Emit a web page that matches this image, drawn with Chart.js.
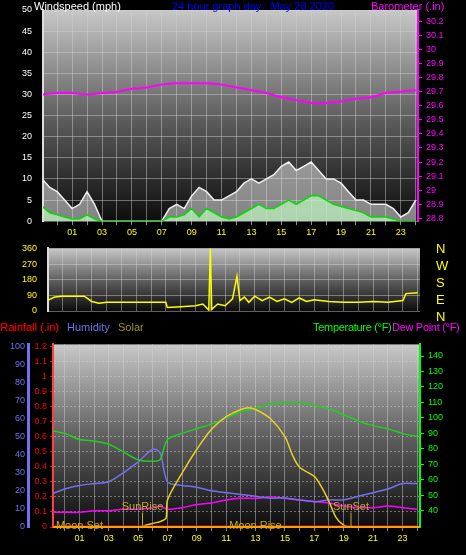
<!DOCTYPE html>
<html><head><meta charset="utf-8">
<script src="https://cdn.jsdelivr.net/npm/chart.js@4/dist/chart.umd.min.js"></script>
<style>
body{margin:0;background:#000;width:466px;height:555px;position:relative;overflow:hidden;font-family:"Liberation Sans",Arial,sans-serif}
canvas{position:absolute;left:0;z-index:1}
.t{position:absolute;font-size:11px;white-space:nowrap;line-height:12px;z-index:2}
</style></head><body>
<div class="t" style="left:34px;top:0;color:#fff">Windspeed (mph)</div>
<div class="t" style="left:172px;top:0;color:#0000ff">24 hour graph day : May 28 2020</div>
<div class="t" style="left:371px;top:0;color:#ff00ff">Barometer (.in)</div>
<canvas id="c1" width="466" height="240" style="top:0"></canvas>
<canvas id="c2" width="466" height="80" style="top:240px"></canvas>
<div class="t" style="left:436px;top:240px;color:#ffff00;line-height:17px;font-size:13px">N<br>W<br>S<br>E<br>N</div>
<div class="t" style="left:0;top:321px;color:#ff0000">Rainfall (.in)</div>
<div class="t" style="left:67px;top:321px;color:#7070f0">Humidity</div>
<div class="t" style="left:118px;top:321px;color:#a09020">Solar</div>
<div class="t" style="left:313px;top:321px;color:#00ff00;letter-spacing:-0.3px">Temperature (°F)</div>
<div class="t" style="left:392px;top:321px;color:#ff00ff;letter-spacing:-0.3px">Dew Point (°F)</div>
<canvas id="c3" width="466" height="220" style="top:335px"></canvas>
<script>
// hours (relative to midnight), 30-min steps for wind
const windHours = [-1,-0.5,0,0.5,1,1.5,2,2.5,3,3.5,4,4.5,5,5.5,6,6.5,7,7.5,8,8.5,9,9.5,10,10.5,11,11.5,12,12.5,13,13.5,14,14.5,15,15.5,16,16.5,17,17.5,18,18.5,19,19.5,20,20.5,21,21.5,22,22.5,23,23.5,24];
const windGust = [10,8,7,5,3,4,7,4,0,0,0,0,0,0,0,0,0,3,4,3,6,8,7,5,5,6,7,9,10,9,10,11,13,14,12,13,14,12,10,10,9,7,5,5,4,4,4,3,1,2,5];
const windAvg = [3.5,2,1.5,1,0.5,0.5,1.5,0.5,0,0,0,0,0,0,0,0,0,1,1,1.5,3,1,3,2,1,0.5,1,2,3,4,3,3,4,5,4,5,6,6,5,4,3.5,3,2.5,2,1,1,1,0.5,0,0,0];
const baroHours = [-1,0,1,2,3,4,5,6,7,8,9,10,11,12,13,14,15,16,17,18,19,20,21,22,23,24];
const baro = [29.68,29.69,29.69,29.68,29.69,29.70,29.72,29.73,29.75,29.76,29.76,29.76,29.75,29.73,29.71,29.69,29.66,29.64,29.62,29.62,29.63,29.65,29.66,29.69,29.70,29.71];

const dirHours = [-1,-0.5,0,1,1.5,2,2.5,3,4,5,6,7,7.1,8,9,9.5,9.9,10,10.1,10.5,11,11.5,11.8,12,12.3,12.6,13,13.5,14,14.5,15,15.5,16,16.5,17,18,19,20,21,22,23,23.2,24];
const windDir = [60,80,85,85,85,55,45,50,50,50,50,50,20,25,30,40,5,360,10,40,30,70,200,60,80,50,85,60,80,55,70,50,75,55,65,55,50,50,55,50,60,100,105];

const thHours = [-1,0,1,2,3,4,5,6,6.5,7,8,9,10,11,12,13,14,15,16,17,18,19,20,21,22,23,24];
const temperature = [92,90,86,85,83,78,73,72,73,86,90,93,96,100,104,106,109,110,110,108,106,102,98,95,93,90,88];
const humidity = [18,21,23,24,25,30,36,43,41,25,23,22,20,19,18,17,16,16,15,14,15,15,17,19,21,24,24];
const dewPoint = [39,39,39,40,40,41,41,42,43,41,42,44,45,47,48,48,49,48,47,46,45,43,42,42,43,42,41];
const solarHours = [-1,5.3,5.5,6,6.5,6.9,7,8,9,10,11,12,12.5,13,14,15,15.5,16,17,17.5,18,18.5,19,19.5,24];
const solar = [0,0,1,2,3,5,15,30,43,54,61,65,66,65,60,50,40,33,28,22,14,5,1,0,0];
const rainHours = [-1,24];
const rainfall = [0,0];
const sunMarks = [{h:5.3,label:'SunRise'},{h:19.5,label:'SunSet'}];
const moonMarks = [{h:-0.6,label:'Moon Set'},{h:11.2,label:'Moon Rise'}];

const xy = (xs, ys) => xs.map((x, i) => ({x: x, y: ys[i]}));
const FONT = {family: '"Liberation Sans", Arial, sans-serif', size: 9};
const GRID = {color: 'rgba(210,210,210,0.45)', tickColor: 'rgba(0,0,0,0)'};

const bgPlugin = {
  id: 'bg',
  beforeDraw(chart) {
    const c = chart.ctx, a = chart.chartArea;
    c.save();
    c.fillStyle = '#000';
    c.fillRect(0, 0, chart.width, chart.height);
    const g = c.createLinearGradient(0, a.top, 0, a.bottom);
    g.addColorStop(0, '#c8c8c8');
    g.addColorStop(0.5, '#606060');
    g.addColorStop(1, '#0c0c0c');
    c.fillStyle = g;
    c.fillRect(a.left, a.top, a.right - a.left, a.bottom - a.top);
    c.restore();
  }
};

function hourAxis(min, max, show) {
  return {
    type: 'linear', min: min, max: max, display: show,
    afterBuildTicks: s => { s.ticks = []; for (let h = 0; h <= 24; h++) s.ticks.push({value: h}); },
    ticks: {color: '#ffff00', font: FONT, autoSkip: false, maxRotation: 0, padding: 2,
      callback: v => (v % 2 === 1 ? String(v).padStart(2, '0') : '')},
    grid: {color: 'rgba(210,210,210,0.45)', tickLength: 4, tickColor: '#888', drawOnChartArea: true},
    border: {display: false}
  };
}
function fixW(w) { return s => { s.width = w; }; }

new Chart(document.getElementById('c1'), {
  type: 'line',
  data: {datasets: [
    {data: xy(baroHours, baro), yAxisID: 'yb', borderColor: '#ff00ff', borderWidth: 2, pointRadius: 0, tension: 0.3},
    {data: xy(windHours, windAvg), yAxisID: 'y', borderColor: '#00dd00', borderWidth: 1.5, pointRadius: 0, fill: 'origin', backgroundColor: 'rgba(190,240,190,0.75)'},
    {data: xy(windHours, windGust), yAxisID: 'y', borderColor: '#f0f0f0', borderWidth: 1.5, pointRadius: 0, fill: 'origin', backgroundColor: 'rgba(230,230,230,0.55)'}
  ]},
  options: {
    animation: false, responsive: false,
    layout: {padding: {top: 10}},
    plugins: {legend: {display: false}, tooltip: {enabled: false}},
    scales: {
      x: hourAxis(-0.95, 24.15, true),
      y: {min: 0, max: 50, afterFit: fixW(43), ticks: {stepSize: 5, color: '#fff', font: FONT, padding: 3},
        grid: GRID, border: {display: true, color: '#ddd', width: 2}},
      yb: {position: 'right', min: 28.78, max: 30.28, afterFit: fixW(48),
        afterBuildTicks: s => { s.ticks = []; for (let v = 28.8; v <= 30.21; v += 0.1) s.ticks.push({value: Math.round(v * 10) / 10}); },
        ticks: {color: '#ff00ff', font: FONT, padding: 4, callback: v => String(v)},
        grid: {drawOnChartArea: false, tickLength: 4, tickColor: '#ff00ff'}, border: {display: true, color: '#ff00ff', width: 2}}
    }
  },
  plugins: [bgPlugin]
});

new Chart(document.getElementById('c2'), {
  type: 'line',
  data: {datasets: [
    {data: xy(dirHours, windDir), borderColor: '#ffff00', borderWidth: 1.5, pointRadius: 0}
  ]},
  options: {
    animation: false, responsive: false,
    layout: {padding: {top: 6, bottom: 9}},
    plugins: {legend: {display: false}, tooltip: {enabled: false}},
    scales: {
      x: Object.assign(hourAxis(-0.95, 24.15, true), {ticks: {display: false}, grid: {color: 'rgba(210,210,210,0.45)', tickLength: 0}}),
      y: {min: 0, max: 360, afterFit: fixW(48), ticks: {stepSize: 90, color: '#ffff00', font: FONT, padding: 3},
        grid: GRID, border: {display: true, color: '#ddd', width: 2}},
      yr: {position: 'right', min: 0, max: 360, afterFit: fixW(46), ticks: {display: false}, grid: {drawOnChartArea: false}, border: {display: false}}
    }
  },
  plugins: [bgPlugin]
});

const markPlugin = {
  id: 'marks',
  afterDatasetsDraw(chart) {
    const c = chart.ctx, x = chart.scales.x, yh = chart.scales.yh;
    c.save();
    c.font = '11px "Liberation Sans", Arial, sans-serif';
    c.textBaseline = 'middle';
    c.fillStyle = '#c0b020';
    c.strokeStyle = '#c0b020';
    c.lineWidth = 1;
    sunMarks.forEach(m => {
      const px = x.getPixelForValue(m.h);
      c.beginPath(); c.moveTo(px, yh.getPixelForValue(0)); c.lineTo(px, yh.getPixelForValue(8)); c.stroke();
      c.textAlign = 'center';
      c.fillText(m.label, px, yh.getPixelForValue(11));
    });
    moonMarks.forEach(m => {
      c.textAlign = 'left';
      c.fillText(m.label, x.getPixelForValue(m.h), yh.getPixelForValue(0) - 1);
    });
    c.fillStyle = '#ffa000';
    c.fillRect(x.left, yh.getPixelForValue(0) - 1, x.right - x.left, 2);
    c.restore();
  }
};

new Chart(document.getElementById('c3'), {
  type: 'line',
  data: {datasets: [
    {data: xy(rainHours, rainfall), yAxisID: 'yr', borderColor: '#ff0000', borderWidth: 3, pointRadius: 0},
    {data: xy(solarHours, solar), yAxisID: 'yh', borderColor: '#e8d020', borderWidth: 1.5, pointRadius: 0, tension: 0.3},
    {data: xy(thHours, temperature), yAxisID: 'yt', borderColor: '#20d020', borderWidth: 1.5, pointRadius: 0, tension: 0.3},
    {data: xy(thHours, humidity), yAxisID: 'yh', borderColor: '#7070f0', borderWidth: 1.5, pointRadius: 0, tension: 0.3},
    {data: xy(thHours, dewPoint), yAxisID: 'yt', borderColor: '#ff00ff', borderWidth: 1.5, pointRadius: 0, tension: 0.3}
  ]},
  options: {
    animation: false, responsive: false,
    layout: {padding: {top: 6}},
    plugins: {legend: {display: false}, tooltip: {enabled: false}},
    scales: {
      x: Object.assign(hourAxis(-0.8, 24.2, true), {afterFit: s => { s.height = 28; }}),
      yr: {position: 'left', min: 0, max: 1.212, afterFit: fixW(25),
        afterBuildTicks: s => { s.ticks = []; for (let v = 0; v <= 12; v++) s.ticks.push({value: v / 10}); },
        ticks: {color: '#ff0000', font: FONT, padding: 3, callback: v => String(v)},
        grid: {color: 'rgba(210,210,210,0.45)', tickLength: 3, tickColor: '#ff0000'},
        border: {display: true, color: '#ff4040', width: 2, dash: [2, 2]}},
      yh: {position: 'left', min: 0, max: 101, afterFit: fixW(28),
        afterBuildTicks: s => { s.ticks = []; for (let v = 0; v <= 100; v += 10) s.ticks.push({value: v}); },
        ticks: {color: '#7070f0', font: FONT, padding: 3}, grid: {drawOnChartArea: false, tickLength: 0},
        border: {display: true, color: '#7070f0', width: 3}},
      yt: {position: 'right', min: 29.5, max: 147.5, afterFit: fixW(46),
        afterBuildTicks: s => { s.ticks = []; for (let v = 40; v <= 140; v += 10) s.ticks.push({value: v}); },
        ticks: {color: '#00ff00', font: FONT, padding: 4}, grid: {drawOnChartArea: false, tickLength: 4, tickColor: '#00ff00'},
        border: {display: true, color: '#00ff00', width: 2}}
    }
  },
  plugins: [bgPlugin, markPlugin]
});
</script>
</body></html>
